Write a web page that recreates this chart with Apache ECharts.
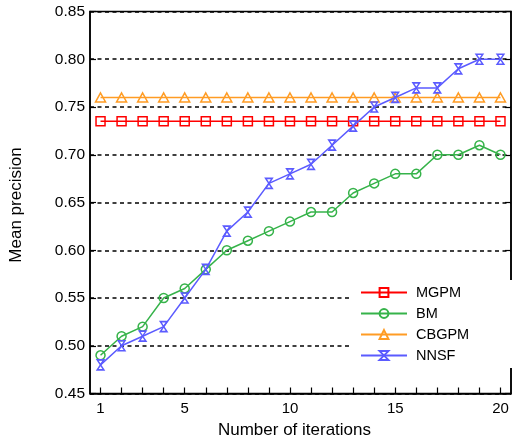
<!DOCTYPE html>
<html>
<head>
<meta charset="utf-8">
<script src="https://cdn.jsdelivr.net/npm/echarts@6/dist/echarts.min.js"></script>
<style>html,body{margin:0;padding:0;background:#fff;}#c{width:515px;height:445px;}</style>
</head>
<body>
<div id="c"></div>
<script>
const categories = ['1','2','3','4','5','6','7','8','9','10','11','12','13','14','15','16','17','18','19','20'];
const shownXLabels = ['1','5','10','15','20'];
const mgpm = [0.735,0.735,0.735,0.735,0.735,0.735,0.735,0.735,0.735,0.735,0.735,0.735,0.735,0.735,0.735,0.735,0.735,0.735,0.735,0.735];
const bm = [0.49,0.51,0.52,0.55,0.56,0.58,0.60,0.61,0.62,0.63,0.64,0.64,0.66,0.67,0.68,0.68,0.70,0.70,0.71,0.70];
const cbgpm = [0.76,0.76,0.76,0.76,0.76,0.76,0.76,0.76,0.76,0.76,0.76,0.76,0.76,0.76,0.76,0.76,0.76,0.76,0.76,0.76];
const nnsf = [0.48,0.50,0.51,0.52,0.55,0.58,0.62,0.64,0.67,0.68,0.69,0.71,0.73,0.75,0.76,0.77,0.77,0.79,0.80,0.80];
const seriesNames = ['MGPM','BM','CBGPM','NNSF'];
const colors = ['#ff0000','#36b34a','#ff9c24','#5b5bff'];

const font = 'Liberation Sans, Arial, sans-serif';
const hourglass = 'path://M0,0 L10,0 L0,12 L10,12 Z';
const symbols = ['rect','circle','triangle',hourglass];
const sizes = [[9,9],9,[10,9],[8,10]];
const datas = [mgpm,bm,cbgpm,nnsf];

const chart = echarts.init(document.getElementById('c'), null, {renderer:'canvas'});
chart.setOption({
  animation: false,
  backgroundColor: '#fff',
  grid: {left: 88, right: 4, top: 11.5, bottom: 51.5, show: true, borderColor: '#000', borderWidth: 1.5, backgroundColor: 'transparent'},
  legend: {
    orient: 'vertical', left: 352, top: 280,
    padding: [5, 45, 5, 8],
    backgroundColor: '#fff',
    itemWidth: 46, itemHeight: 11, itemGap: 6,
    textStyle: {fontFamily: font, fontSize: 14.5, color: '#000', padding: [0,0,0,4]},
    data: seriesNames
  },
  xAxis: {
    type: 'category', data: categories, boundaryGap: true,
    name: 'Number of iterations', nameLocation: 'middle', nameGap: 26,
    nameTextStyle: {fontFamily: font, fontSize: 17, color: '#000', padding: [0, 12, 0, 0]},
    axisLine: {show: true, lineStyle: {color: '#000', width: 1.5}},
    axisTick: {show: true, inside: true, length: 6, alignWithLabel: true, interval: 0, lineStyle: {color: '#000', width: 1.2}},
    axisLabel: {fontFamily: font, fontSize: 15, color: '#000', margin: 8,
      interval: function(i, v){ return shownXLabels.indexOf(v) >= 0; }},
    splitLine: {show: false}
  },
  yAxis: [{
    type: 'value', min: 0.45, max: 0.85, interval: 0.05,
    name: 'Mean precision', nameLocation: 'middle', nameGap: 65,
    nameTextStyle: {fontFamily: font, fontSize: 17, color: '#000', padding: [0, 5, 0, 0]},
    axisLine: {show: true, lineStyle: {color: '#000', width: 1.5}},
    axisTick: {show: true, inside: true, length: 6, lineStyle: {color: '#000', width: 1.2}},
    axisLabel: {fontFamily: font, fontSize: 15.5, color: '#000', margin: 5,
      formatter: function(v){ return v.toFixed(2); }},
    splitLine: {show: true, lineStyle: {color: '#000', width: 1.5, type: [4, 3.5]}}
  },{
    type: 'value', min: 0.45, max: 0.85, interval: 0.05, position: 'right',
    axisLine: {show: true, lineStyle: {color: '#000', width: 1.5}},
    axisTick: {show: true, inside: true, length: 6, lineStyle: {color: '#000', width: 1.2}},
    axisLabel: {show: false},
    splitLine: {show: false}
  }],
  series: seriesNames.map(function(n, i){
    return {
      name: n, type: 'line', data: datas[i],
      symbol: symbols[i], symbolSize: sizes[i], symbolKeepAspect: true,
      showAllSymbol: true,
      lineStyle: {color: colors[i], width: 1.5},
      itemStyle: {color: 'rgba(255,255,255,0)', borderColor: colors[i], borderWidth: 1.5},
      emphasis: {disabled: true},
      z: 2 + i
    };
  })
});
</script>
</body>
</html>
